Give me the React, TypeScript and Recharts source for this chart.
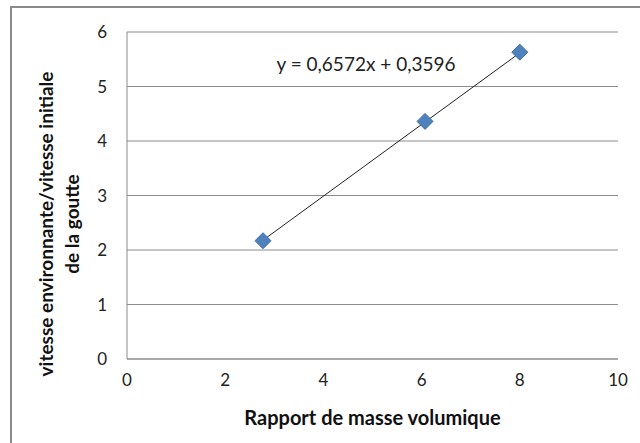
import React from "react";
import {
  ScatterChart,
  Scatter,
  XAxis,
  YAxis,
  CartesianGrid,
  ReferenceLine,
} from "recharts";

const xValues = [2.77, 6.07, 8.0];
const yValues = [2.17, 4.36, 5.63];
const slope = 0.6572;
const intercept = 0.3596;
const equationText = "y = 0,6572x + 0,3596";
const xTicks = [0, 2, 4, 6, 8, 10];
const yTicks = [0, 1, 2, 3, 4, 5, 6];
const xTitle = "Rapport de masse volumique";
const yTitleLine1 = "vitesse environnante/vitesse initiale";
const yTitleLine2 = "de la goutte";

const points = xValues.map((x, i) => ({ x, y: yValues[i] }));
const xMin = Math.min(...xValues);
const xMax = Math.max(...xValues);
const trendSegment = [
  { x: xMin, y: slope * xMin + intercept },
  { x: xMax, y: slope * xMax + intercept },
];

const FONT = "Lato, 'Open Sans', sans-serif";
const GRID = "#8c8c8c";

const Diamond = (props: any) => {
  const { cx, cy } = props;
  if (cx == null || cy == null) return <g />;
  const r = 8;
  return (
    <polygon
      points={`${cx},${cy - r} ${cx + r},${cy} ${cx},${cy + r} ${cx - r},${cy}`}
      fill="#4F81BD"
      stroke="#3C6EA9"
      strokeWidth={1}
    />
  );
};

const YTitle = () => (
  <g>
    <text
      x={0}
      y={0}
      transform="translate(53,224) rotate(-90)"
      textAnchor="middle"
      fontFamily={FONT}
      fontWeight="bold"
      fontSize={19}
      fill="#111"
    >
      {yTitleLine1}
    </text>
    <text
      x={0}
      y={0}
      transform="translate(79,224) rotate(-90)"
      textAnchor="middle"
      fontFamily={FONT}
      fontWeight="bold"
      fontSize={19}
      fill="#111"
    >
      {yTitleLine2}
    </text>
  </g>
);

export default function App() {
  return (
    <div
      style={{
        position: "absolute",
        left: 0,
        top: 0,
        width: 640,
        height: 443,
        overflow: "hidden",
        background: "#fff",
      }}
    >
      <div
        style={{
          position: "absolute",
          left: 10,
          top: 6,
          width: 700,
          height: 500,
          border: "2px solid #8a8a8a",
        }}
      />
      <div style={{ position: "absolute", left: 0, top: 0 }}>
        <ScatterChart
          width={640}
          height={443}
          margin={{ top: 32, right: 22, bottom: 44, left: 67 }}
        >
          <CartesianGrid vertical={false} stroke={GRID} strokeWidth={1} />
          <XAxis
            type="number"
            dataKey="x"
            domain={[0, 10]}
            ticks={xTicks}
            height={40}
            axisLine={{ stroke: GRID }}
            tickLine={false}
            tickSize={0}
            tickMargin={15}
            tick={{ fontFamily: FONT, fontSize: 17, fill: "#222" }}
            label={{
              value: xTitle,
              position: "bottom",
              offset: 12,
              style: {
                fontFamily: FONT,
                fontWeight: "bold",
                fontSize: 20,
                fill: "#111",
              },
            }}
          />
          <YAxis
            type="number"
            dataKey="y"
            domain={[0, 6]}
            ticks={yTicks}
            width={60}
            axisLine={{ stroke: GRID }}
            tickLine={false}
            tickSize={0}
            tickMargin={20}
            tick={{ fontFamily: FONT, fontSize: 17, fill: "#222" }}
            label={{ content: () => <YTitle /> }}
          />
          <ReferenceLine
            segment={trendSegment}
            stroke="#222"
            strokeWidth={1}
            ifOverflow="visible"
          />
          <Scatter
            data={points}
            shape={Diamond}
            isAnimationActive={false}
          />
        </ScatterChart>
      </div>
      <div
        style={{
          position: "absolute",
          left: 216,
          width: 300,
          top: 53,
          lineHeight: "22px",
          textAlign: "center",
          fontFamily: FONT,
          fontSize: 19,
          color: "#222",
          whiteSpace: "nowrap",
        }}
      >
        {equationText}
      </div>
    </div>
  );
}
